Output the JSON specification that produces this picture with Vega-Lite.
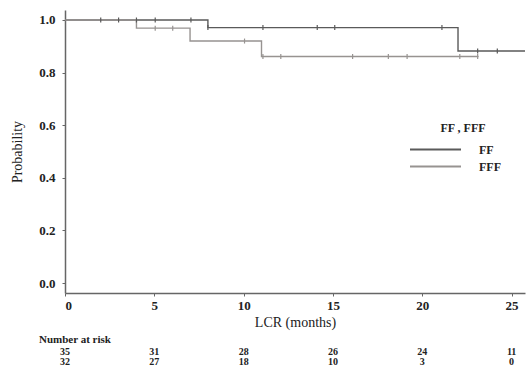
{
  "$schema": "https://vega.github.io/schema/vega-lite/v6.json",
  "background": "white",
  "padding": {"left": 10, "top": 10, "right": 0, "bottom": 0},
  "spacing": 5,
  "config": {
    "view": {"stroke": null},
    "font": "Liberation Serif",
    "axis": {
      "grid": false,
      "domainColor": "#666666",
      "domainWidth": 1.5,
      "tickColor": "#666666",
      "tickSize": 3,
      "labelFont": "Liberation Serif",
      "labelFontWeight": "bold",
      "labelFontSize": 13,
      "labelColor": "#222222",
      "titleFont": "Liberation Serif",
      "titleFontWeight": "normal",
      "titleFontSize": 14,
      "titleColor": "#222222"
    }
  },
  "datasets": {
    "curves": [
      {"group": "FF", "time": 0, "surv": 1.0},
      {"group": "FF", "time": 8, "surv": 0.971},
      {"group": "FF", "time": 22, "surv": 0.882},
      {"group": "FF", "time": 25.75, "surv": 0.882},
      {"group": "FFF", "time": 0, "surv": 1.0},
      {"group": "FFF", "time": 4, "surv": 0.969},
      {"group": "FFF", "time": 7, "surv": 0.92},
      {"group": "FFF", "time": 11, "surv": 0.861},
      {"group": "FFF", "time": 23.15, "surv": 0.861}
    ],
    "censored": [
      {"group": "FF", "time": 2.0, "surv": 1.0},
      {"group": "FF", "time": 3.0, "surv": 1.0},
      {"group": "FF", "time": 4.0, "surv": 1.0},
      {"group": "FF", "time": 5.05, "surv": 1.0},
      {"group": "FF", "time": 7.05, "surv": 1.0},
      {"group": "FF", "time": 8.0, "surv": 0.971},
      {"group": "FF", "time": 11.08, "surv": 0.971},
      {"group": "FF", "time": 14.12, "surv": 0.971},
      {"group": "FF", "time": 15.1, "surv": 0.971},
      {"group": "FF", "time": 21.1, "surv": 0.971},
      {"group": "FF", "time": 23.1, "surv": 0.882},
      {"group": "FF", "time": 24.2, "surv": 0.882},
      {"group": "FFF", "time": 5.05, "surv": 0.969},
      {"group": "FFF", "time": 6.03, "surv": 0.969},
      {"group": "FFF", "time": 10.05, "surv": 0.92},
      {"group": "FFF", "time": 11.08, "surv": 0.861},
      {"group": "FFF", "time": 12.08, "surv": 0.861},
      {"group": "FFF", "time": 16.1, "surv": 0.861},
      {"group": "FFF", "time": 18.1, "surv": 0.861},
      {"group": "FFF", "time": 19.15, "surv": 0.861},
      {"group": "FFF", "time": 22.1, "surv": 0.861},
      {"group": "FFF", "time": 23.1, "surv": 0.861}
    ],
    "risk": [
      {"group": "FF", "time": 0, "n": 35},
      {"group": "FF", "time": 5, "n": 31},
      {"group": "FF", "time": 10, "n": 28},
      {"group": "FF", "time": 15, "n": 26},
      {"group": "FF", "time": 20, "n": 24},
      {"group": "FF", "time": 25, "n": 11},
      {"group": "FFF", "time": 0, "n": 32},
      {"group": "FFF", "time": 5, "n": 27},
      {"group": "FFF", "time": 10, "n": 18},
      {"group": "FFF", "time": 15, "n": 10},
      {"group": "FFF", "time": 20, "n": 3},
      {"group": "FFF", "time": 25, "n": 0}
    ]
  },
  "vconcat": [
    {
      "width": 460,
      "height": 283,
      "encoding": {
        "x": {
          "field": "time",
          "type": "quantitative",
          "scale": {"domain": [0, 25.75], "nice": false, "zero": false},
          "axis": {"values": [0, 5, 10, 15, 20, 25], "title": "LCR (months)", "labelPadding": 3, "titlePadding": 3}
        },
        "y": {
          "field": "surv",
          "type": "quantitative",
          "scale": {"domain": [-0.038, 1.038], "nice": false, "zero": false},
          "axis": {"values": [0, 0.2, 0.4, 0.6, 0.8, 1.0], "format": ".1f", "title": "Probability", "labelPadding": 7, "titlePadding": 14}
        },
        "color": {
          "field": "group",
          "type": "nominal",
          "scale": {"domain": ["FF", "FFF"], "range": ["#5a5a5a", "#979391"]},
          "legend": {
            "orient": "none",
            "legendX": 361,
            "legendY": 113,
            "title": "FF , FFF",
            "titleFont": "Liberation Serif",
            "titleFontSize": 12,
            "titleFontWeight": "bold",
            "titleColor": "#222222",
            "titleAnchor": "middle",
            "titlePadding": 5,
            "labelFont": "Liberation Serif",
            "labelFontSize": 12,
            "labelFontWeight": "bold",
            "labelColor": "#222222",
            "labelOffset": 34,
            "symbolType": "M-3,0H3",
            "symbolSize": 289,
            "symbolStrokeWidth": 2,
            "symbolFillColor": "transparent",
            "rowPadding": 1
          }
        }
      },
      "layer": [
        {
          "data": {"name": "curves"},
          "mark": {"type": "line", "interpolate": "step-after", "strokeWidth": 1.4}
        },
        {
          "data": {"name": "censored"},
          "mark": {"type": "tick", "orient": "vertical", "size": 5, "thickness": 1.2, "opacity": 1}
        }
      ]
    },
    {
      "width": 460,
      "height": 20,
      "data": {"name": "risk"},
      "title": {"text": "Number at risk", "anchor": "start", "dx": -21, "offset": 2, "fontSize": 11, "font": "Liberation Serif", "fontWeight": "bold", "color": "#222222"},
      "mark": {"type": "text", "font": "Liberation Serif", "fontSize": 10, "fontWeight": "bold", "color": "#222222", "baseline": "middle"},
      "encoding": {
        "x": {"field": "time", "type": "quantitative", "scale": {"domain": [0, 25.75], "nice": false, "zero": false}, "axis": null},
        "y": {"field": "group", "type": "nominal", "sort": ["FF", "FFF"], "scale": {"paddingInner": 0, "paddingOuter": 0}, "axis": null},
        "text": {"field": "n", "type": "quantitative"}
      }
    }
  ]
}
